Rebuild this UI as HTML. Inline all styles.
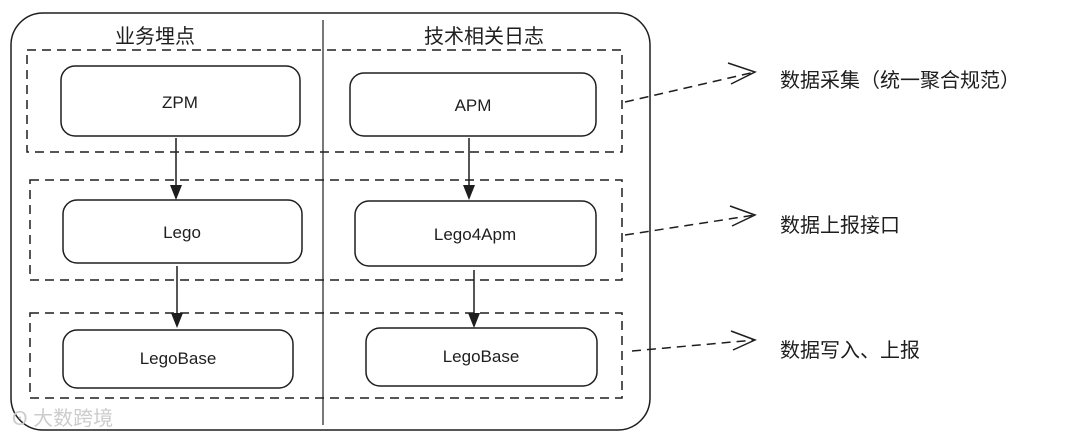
<!DOCTYPE html>
<html><head><meta charset="utf-8"><style>
body{margin:0;width:1080px;height:440px;background:#fff;overflow:hidden}
svg text{font-family:"Liberation Sans","Noto Sans CJK SC",sans-serif;fill:#1e1e1e}
</style></head><body>
<svg width="1080" height="440" viewBox="0 0 1080 440">
<g fill="none" stroke="#1e1e1e" stroke-width="1.5">
<rect x="11" y="13" width="639" height="417" rx="32"/>
<line x1="323" y1="20" x2="323" y2="425" stroke-width="1.2"/>
<g stroke-dasharray="9,6">
<rect x="27" y="50" width="595" height="102"/>
<rect x="30" y="180" width="592" height="100"/>
<rect x="30" y="313" width="592" height="85"/>
<path d="M625 102 L755 72"/>
<path d="M625 235 L755 215"/>
<path d="M632 351 L755 340"/>
</g>
<path d="M728 63 L755 72 L731 84"/>
<path d="M730 206 L755 215 L732 226"/>
<path d="M731 331 L755 340 L733 350"/>
<rect x="61" y="66" width="239" height="70" rx="14"/>
<rect x="350" y="73" width="246" height="63" rx="14"/>
<rect x="63" y="200" width="239" height="63" rx="14"/>
<rect x="355" y="201" width="241" height="65" rx="14"/>
<rect x="63" y="330" width="230" height="58" rx="14"/>
<rect x="366" y="328" width="231" height="58" rx="14"/>
<line x1="176" y1="138" x2="176" y2="198"/>
<line x1="177" y1="266" x2="177" y2="326"/>
<line x1="469" y1="138" x2="469" y2="198"/>
<line x1="474" y1="270" x2="474" y2="326"/>
</g>
<g fill="#1e1e1e">
<path d="M170 185 L182 185 L176 200Z"/>
<path d="M171 313 L183 313 L177 328Z"/>
<path d="M463 185 L475 185 L469 200Z"/>
<path d="M468 313 L480 313 L474 328Z"/>
</g>
<g font-size="20" text-anchor="middle">
<text x="155" y="43">业务埋点</text>
<text x="484" y="43">技术相关日志</text>
</g>
<g font-size="17" text-anchor="middle">
<text x="180" y="108">ZPM</text>
<text x="473" y="111">APM</text>
<text x="182" y="238">Lego</text>
<text x="475" y="240">Lego4Apm</text>
<text x="178" y="364">LegoBase</text>
<text x="481" y="362">LegoBase</text>
</g>
<g font-size="20">
<text x="780" y="87">数据采集（统一聚合规范）</text>
<text x="780" y="232">数据上报接口</text>
<text x="780" y="357">数据写入、上报</text>
</g>
<text x="12" y="425" font-size="20" style="fill:#ccc">ʘ 大数跨境</text>
</svg>
</body></html>
